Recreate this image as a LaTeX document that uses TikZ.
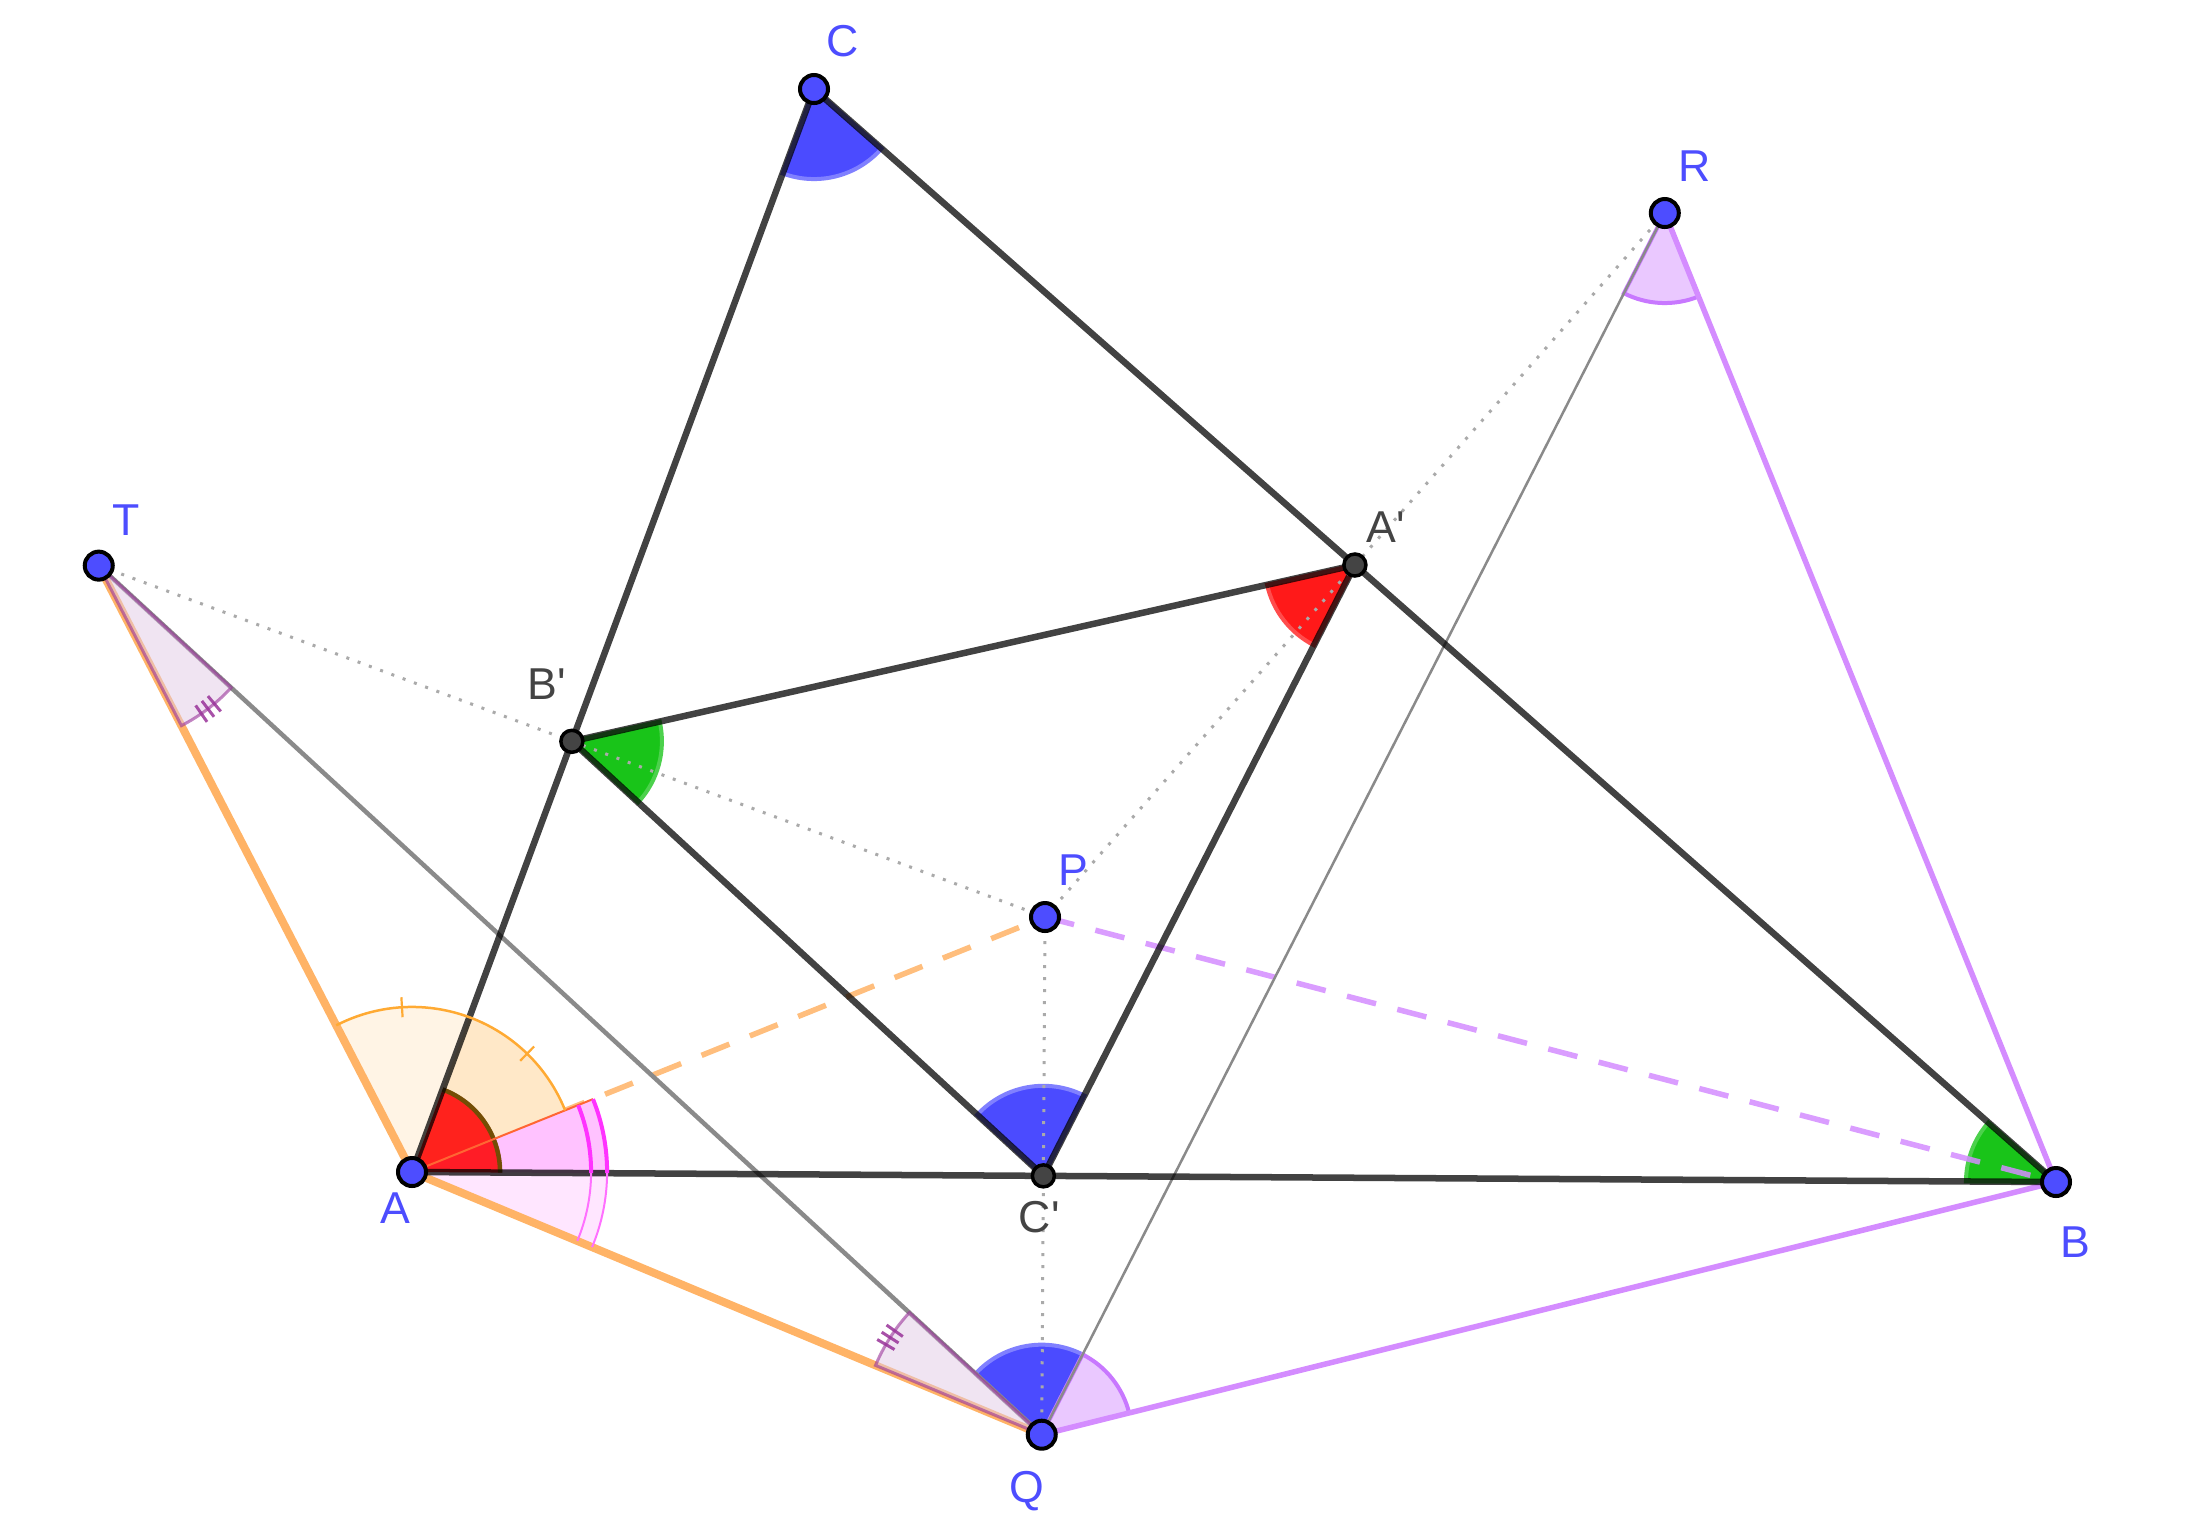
\documentclass[tikz,border=0pt]{standalone}
\usepackage{fontspec}
\setmainfont{Liberation Sans}
\usetikzlibrary{calc}
\definecolor{ptblue}{HTML}{4D4DFF}
\definecolor{ptdark}{HTML}{444444}
\definecolor{lorange}{HTML}{FFB366}
\definecolor{lpurple}{HTML}{D48CFF}
\definecolor{dotgray}{HTML}{AAAAAA}
\definecolor{midgray}{HTML}{8A8A8A}
\definecolor{angblue}{HTML}{2B2BFF}
\definecolor{anggreen}{HTML}{00BE00}
\definecolor{angred}{HTML}{FF0000}
\definecolor{anglilac}{HTML}{EAC8FF}
\definecolor{lilacline}{HTML}{C878FF}
\definecolor{lavender}{HTML}{E1C9E5}
\definecolor{plum}{HTML}{993399}
\definecolor{ocream}{HTML}{FFF4E5}
\definecolor{opeach}{HTML}{FFE8C8}
\definecolor{oarc}{HTML}{FFAA33}
\definecolor{pinkfill}{HTML}{FFC2FF}
\definecolor{pinklight}{HTML}{FFE6FF}
\definecolor{pinkline}{HTML}{FF33FF}
\definecolor{olivearc}{HTML}{5C5500}
\definecolor{edgeorange}{HTML}{FF6633}

% sector at vertex #3 between the rays to #2 and #4
\newcommand\angsector[5][]{%
  \path[#1] let \p1=($(#2)-(#3)$), \p2=($(#4)-(#3)$),
    \n1={atan2(\y1,\x1)}, \n2={atan2(\y2,\x2)},
    \n3={mod(\n2-\n1+540,360)-180} in
    (#3) -- ++(\n1:#5) arc[start angle=\n1, delta angle=\n3, radius=#5] -- cycle;}
% arc only
\newcommand\angarc[5][]{%
  \path[#1] let \p1=($(#2)-(#3)$), \p2=($(#4)-(#3)$),
    \n1={atan2(\y1,\x1)}, \n2={atan2(\y2,\x2)},
    \n3={mod(\n2-\n1+540,360)-180} in
    ($(#3)+(\n1:#5)$) arc[start angle=\n1, delta angle=\n3, radius=#5];}
% tick across the arc, #6 = offset from the middle (degrees)
\newcommand\angtick[6][]{%
  \path[#1] let \p1=($(#2)-(#3)$), \p2=($(#4)-(#3)$),
    \n1={atan2(\y1,\x1)}, \n2={atan2(\y2,\x2)},
    \n3={mod(\n2-\n1+540,360)-180}, \n4={\n1+\n3/2+#6},
    \n5={#5-0.1cm}, \n6={#5+0.1cm} in
    ($(#3)+(\n4:\n5)$) -- ($(#3)+(\n4:\n6)$);}

\tikzset{
  pt/.style = {circle, draw=black, line width=0.04cm, fill=ptblue, minimum size=0.28cm, inner sep=0pt},
  ptd/.style = {pt, fill=ptdark, line width=0.035cm, minimum size=0.22cm},
  lbl/.style = {text=ptblue, font=\fontsize{12.7}{15}\selectfont, inner sep=0pt},
  lbld/.style = {lbl, text=ptdark},
  seg/.style = {draw=black, draw opacity=0.74, line width=0.065cm, line join=round},
  oline/.style = {draw=lorange, line width=0.08cm},
  pline/.style = {draw=lpurple, line width=0.055cm},
  gline/.style = {draw=midgray, line width=0.045cm},
  gthin/.style = {draw=midgray, line width=0.025cm},
  dotl/.style = {draw=dotgray, line width=0.03cm, dash pattern=on 0.03cm off 0.09cm},
  dashl/.style = {line width=0.055cm, draw opacity=0.85, dash pattern=on 0.3cm off 0.22cm},
  angb/.style = {fill=angblue, fill opacity=0.85, draw=angblue!60!white, line width=0.04cm},
  angg/.style = {fill=anggreen, fill opacity=0.9, draw=anggreen!70!white, line width=0.04cm},
  angr/.style = {fill=angred, fill opacity=0.9, draw=angred!70!white, line width=0.04cm},
  angl/.style = {fill=anglilac, draw=lilacline, line width=0.04cm},
  tri/.style = {fill=lavender, fill opacity=0.5, draw=plum, draw opacity=0.6, line width=0.03cm},
  ptick/.style = {draw=plum, draw opacity=0.85, line width=0.03cm},
  otick/.style = {draw=oarc, line width=0.022cm},
  parc/.style = {draw=pinkline, line width=0.04cm},
  parcl/.style = {draw=pinkline!70!white, line width=0.02cm}
}

\begin{document}
\begin{tikzpicture}[x=0.01cm, y=-0.01cm]
\useasboundingbox (0,0) rectangle (2187,1523);
% triangle ABC and the point P
\coordinate (A) at (412,1172);
\coordinate (B) at (2056,1182);
\coordinate (C) at (814,89);
\coordinate (P) at (1045,917);
% feet of the perpendiculars, reflections of P
\coordinate (Ap) at ($(B)!(P)!(C)$);
\coordinate (Bp) at ($(C)!(P)!(A)$);
\coordinate (Cp) at ($(A)!(P)!(B)$);
\coordinate (R) at ($(P)!2!(Ap)$);
\coordinate (T) at ($(P)!2!(Bp)$);
\coordinate (Q) at ($(P)!2!(Cp)$);
\coordinate (Pe) at ($(A)!1.95cm!(P)$);

% angles
\angsector[angb]{A}{C}{B}{0.9cm}
\angsector[angg]{C}{B}{A}{0.9cm}
\angsector[angr]{Bp}{Ap}{Cp}{0.9cm}
\angsector[angg]{Ap}{Bp}{Cp}{0.9cm}
\angsector[angb]{Ap}{Cp}{Bp}{0.9cm}
\angsector[angb]{T}{Q}{R}{0.9cm}
\angsector[angl]{R}{Q}{B}{0.9cm}
\angsector[angl]{Q}{R}{B}{0.9cm}

% dashed to P
\draw[dashl, draw=lorange] (A) -- (P);
\draw[dashl, draw=lpurple] (P) -- (B);

% angles at A
\angsector[fill=ocream]{T}{A}{C}{1.65cm}
\angsector[fill=opeach]{C}{A}{P}{1.65cm}
\angsector[fill=pinkfill]{P}{A}{B}{1.95cm}
\angsector[fill=pinklight]{B}{A}{Q}{1.95cm}
\angsector[fill=angred, fill opacity=0.85]{B}{A}{C}{0.9cm}
\angarc[draw=olivearc, draw opacity=0.85, line width=0.045cm]{B}{A}{C}{0.88cm}
\draw[draw=edgeorange, line width=0.02cm] (A) -- (Pe);

% lines
\draw[oline] (T) -- (A) -- (Q);
\draw[pline] (R) -- (B) -- (Q);
\draw[gline] (T) -- (Q);
\draw[gthin] (Q) -- (R);
\draw[seg] (A) -- (B) -- (C) -- cycle;
\draw[seg] (Ap) -- (Bp) -- (Cp) -- cycle;

% equal angles at T and Q
\angsector[tri]{A}{T}{Q}{1.8cm}
\angsector[tri]{A}{Q}{T}{1.8cm}
\foreach \d in {-2.6,0,2.6} {
  \angtick[ptick]{A}{T}{Q}{1.8cm}{\d}
  \angtick[ptick]{A}{Q}{T}{1.8cm}{\d}
}
\angarc[draw=oarc, line width=0.025cm]{T}{A}{P}{1.65cm}
\angtick[otick]{T}{A}{C}{1.65cm}{0}
\angtick[otick]{C}{A}{P}{1.65cm}{0}
\angarc[parc]{P}{A}{B}{1.79cm}
\angarc[parc]{P}{A}{B}{1.95cm}
\angarc[parcl]{B}{A}{Q}{1.79cm}
\angarc[parcl]{B}{A}{Q}{1.95cm}

% dotted
\draw[dotl] (T) -- (P);
\draw[dotl] (P) -- (R);
\draw[dotl] (P) -- (Q);

% points
\foreach \p in {A,B,C,P,Q,R,T}
  \node[pt] (n\p) at (\p) {};
\foreach \p in {Ap,Bp,Cp}
  \node[ptd] (n\p) at (\p) {};

% labels
\node[lbl] (lA) at ([shift={(-17,36)}]A) {A};
\node[lbl] (lB) at ([shift={(19,60)}]B) {B};
\node[lbl] (lC) at ([shift={(29,-48)}]C) {C};
\node[lbl] (lP) at ([shift={(28,-47)}]P) {P};
\node[lbl] (lQ) at ([shift={(-15,56)}]Q) {Q};
\node[lbl] (lR) at ([shift={(30,-47)}]R) {R};
\node[lbl] (lT) at ([shift={(27,-46)}]T) {T};
\node[lbld] (lAp) at ([shift={(31,-38)}]Ap) {A\textquotesingle};
\node[lbld] (lBp) at ([shift={(-25,-57)}]Bp) {B\textquotesingle};
\node[lbld] (lCp) at ([shift={(-4,41)}]Cp) {C\textquotesingle};
\end{tikzpicture}
\end{document}
